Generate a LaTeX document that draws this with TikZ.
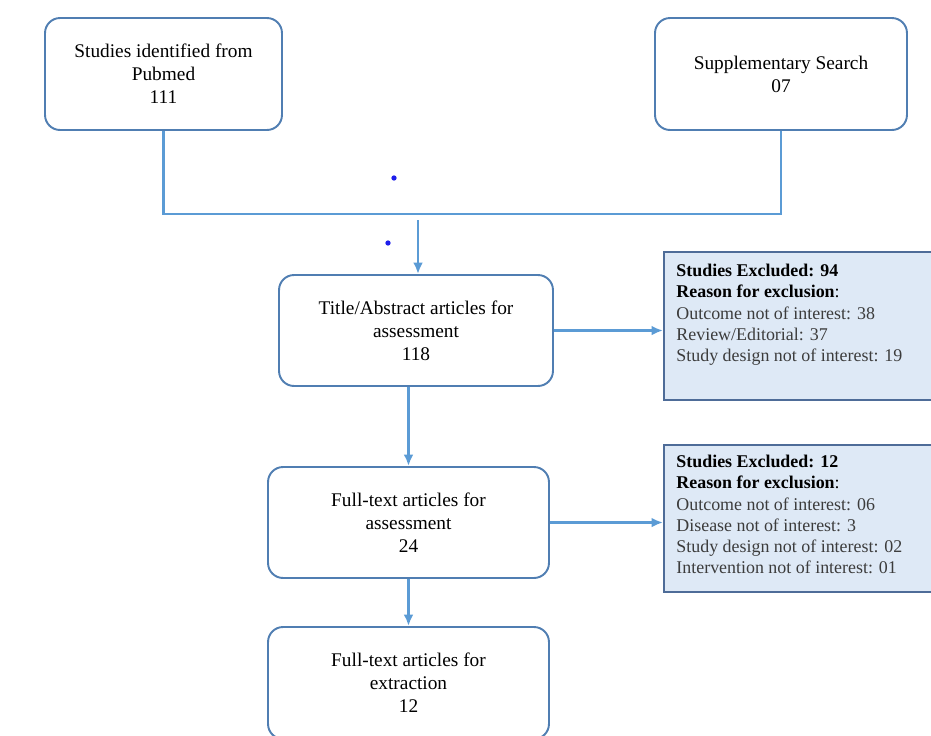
\documentclass[tikz,border=0pt]{standalone}
\usepackage{fontspec}
\setmainfont{Liberation Serif}
\usetikzlibrary{arrows,arrows.meta,positioning,calc}

\begin{document}
\begin{tikzpicture}[x=0.02cm, y=-0.02cm, >={Latex[length=6.5pt,width=5.5pt]}]
    % Colori
    \definecolor{boxline}{RGB}{80,126,178}
    \definecolor{flowline}{RGB}{91,155,213}
    \definecolor{exfill}{RGB}{222,233,246}
    \definecolor{exline}{RGB}{78,108,152}
    \definecolor{reasongray}{RGB}{60,60,60}
    \definecolor{dotblue}{RGB}{30,30,235}

    \tikzset{
        stagebox/.style={draw=boxline, line width=1.1pt, rounded corners=0.3cm, fill=white,
            align=center, inner sep=0pt, font=\fontsize{11}{13}\selectfont},
        exclbox/.style={draw=exline, line width=1.1pt, fill=exfill, inner sep=0pt},
        excltext/.style={anchor=north west, align=left, inner sep=0pt,
            font=\fontsize{10.2}{12}\selectfont},
        flow/.style={draw=flowline, line width=1.4pt}
    }

    % Area del disegno
    \useasboundingbox (0,0) rectangle (931,735);
    \clip (0,0) rectangle (931,735);

    % Fonti
    \node[stagebox, minimum width=4.74cm, minimum height=2.24cm] (pubmed) at (163.5,74)
        {Studies identified from\\Pubmed\\111};
    \node[stagebox, minimum width=5.04cm, minimum height=2.24cm] (suppl) at (781,74)
        {Supplementary Search\\07};

    % Fasi di selezione
    \node[stagebox, minimum width=5.48cm, minimum height=2.22cm] (screen) at (416,330.5)
        {Title/Abstract articles for\\assessment\\118};
    \node[stagebox, minimum width=5.62cm, minimum height=2.22cm] (fulltext) at (408.5,522.5)
        {Full-text articles for\\assessment\\24};
    \node[stagebox, minimum width=5.62cm, minimum height=2.24cm] (extract) at (408.5,683)
        {Full-text articles for\\extraction\\12};

    % Esclusioni
    \node[exclbox, minimum width=5.44cm, minimum height=2.96cm] (excl1) at (800,326) {};
    \node[excltext] (excl1txt) at ($(excl1.north west)+(13,13)$)
        {\textbf{Studies Excluded: 94}\\
         \textbf{Reason for exclusion}:\\
         \textcolor{reasongray}{Outcome not of interest: 38}\\
         \textcolor{reasongray}{Review/Editorial: 37}\\
         \textcolor{reasongray}{Study design not of interest: 19}};

    \node[exclbox, minimum width=5.44cm, minimum height=2.94cm] (excl2) at (800,518.5) {};
    \node[excltext] (excl2txt) at ($(excl2.north west)+(13,11)$)
        {\textbf{Studies Excluded: 12}\\
         \textbf{Reason for exclusion}:\\
         \textcolor{reasongray}{Outcome not of interest: 06}\\
         \textcolor{reasongray}{Disease not of interest: 3}\\
         \textcolor{reasongray}{Study design not of interest: 02}\\
         \textcolor{reasongray}{Intervention not of interest: 01}};

    % Collegamenti
    \draw[flow] (pubmed.south) -- ++(0,83) -| (suppl.south);
    \coordinate (feed) at (418,220);
    \draw[flow, ->] (feed) -- (feed |- screen.north);
    \draw[flow, ->] (screen.south -| fulltext.north) -- (fulltext.north);
    \draw[flow, ->] (fulltext.south) -- (extract.north);
    \draw[flow, ->] (screen.east) -- (screen.east -| excl1.west);
    \draw[flow, ->] (fulltext.east) -- (fulltext.east -| excl2.west);

    % Punti
    \fill[dotblue] (394,178) circle (1.5pt);
    \fill[dotblue] (388,243) circle (1.5pt);
\end{tikzpicture}
\end{document}
